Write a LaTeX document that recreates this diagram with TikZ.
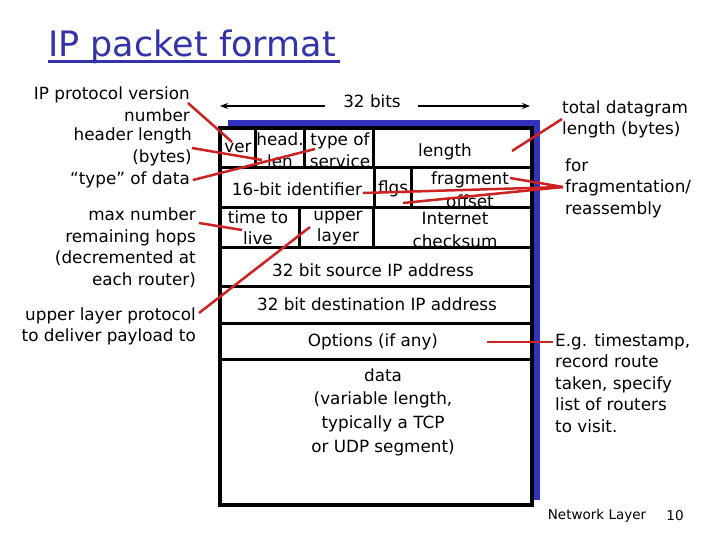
\documentclass[tikz,border=0pt]{standalone}
\usepackage{fontspec}
\setmainfont{DejaVu Sans}
\usetikzlibrary{arrows.meta}
\definecolor{ttlblue}{RGB}{51,51,170}
\definecolor{shblue}{RGB}{50,50,190}
\definecolor{lred}{RGB}{204,34,34}
\tikzset{
  fld/.style={inner sep=0pt, align=center, font=\fontsize{16.8}{22}\selectfont},
  lab/.style={inner sep=0pt, font=\fontsize{16.8}{21.5}\selectfont},
  grid/.style={line width=3pt, black},
  conn/.style={lred, line width=2.5pt},
  dimarrow/.style={line width=1.2pt, -{Stealth[length=8pt,width=6pt]}}
}
\begin{document}
\begin{tikzpicture}[x=1pt,y=-1pt]
\useasboundingbox (0,0) rectangle (720,540);
% title
\node[inner sep=0pt, anchor=base west, text=ttlblue, font=\fontsize{35}{38}\selectfont] (title) at (48,57) {IP packet format};
\draw[ttlblue, line width=3pt] (48,62) -- (340,62);
% box
\fill[shblue] (228,120) rectangle (540,500);
\draw[grid, fill=white, line width=3.5pt] (220,128) rectangle (532,505);
\draw[grid] (220,168) -- (532,168);
\draw[grid] (220,208) -- (532,208);
\draw[grid] (220,247) -- (532,247);
\draw[grid] (220,286) -- (532,286);
\draw[grid] (220,323) -- (532,323);
\draw[grid] (220,359) -- (532,359);
\draw[grid] (255,128) -- (255,168);
\draw[grid] (304,128) -- (304,168);
\draw[grid] (373,128) -- (373,168);
\draw[grid] (374,168) -- (374,208);
\draw[grid] (411,168) -- (411,208);
\draw[grid] (299,208) -- (299,247);
\draw[grid] (373,208) -- (373,247);
% 32 bits
\node[fld] (bits) at (372,101) {32 bits};
\draw[dimarrow] (325,106) -- (220,106);
\draw[dimarrow] (418,106) -- (530,106);
% fields
\node[fld] (ver) at (238,148) {ver};
\node[fld] (hlen) at (280,150) {head.\\len};
\node[fld] (tos) at (340,150) {type of\\service};
\node[fld] (len) at (445,152) {length};
\node[fld] (ident) at (297,189) {16-bit identifier};
\node[fld] (flgs) at (393,189) {flgs};
\node[fld, font=\fontsize{16.8}{23}\selectfont] (frag) at (470,190) {fragment\\offset};
\node[fld, font=\fontsize{16.8}{21}\selectfont] (ttl) at (258,228) {time to\\live};
\node[fld, font=\fontsize{16.8}{21}\selectfont] (prot) at (338,228) {upper\\layer};
\node[fld, font=\fontsize{16.8}{23}\selectfont] (csum) at (455,230) {Internet\\checksum};
\node[fld] (src) at (373,270) {32 bit source IP address};
\node[fld] (dst) at (377,304) {32 bit destination IP address};
\node[fld] (opt) at (373,342) {Options (if any)};
\node[fld, font=\fontsize{16.8}{23.7}\selectfont] (data) at (383,412) {data\\(variable length,\\typically a TCP\\or UDP segment)};
% left labels
\node[lab, align=right, anchor=east] (lver) at (190,104) {IP protocol version\\number};
\node[lab, align=right, anchor=east] (lhl) at (192,147) {header length\\(bytes)};
\node[lab, align=right, anchor=east] (ltos) at (190,180) {“type” of data};
\node[lab, align=right, anchor=east] (lttl) at (196,247.5) {max number\\remaining hops\\(decremented at\\each router)};
\node[lab, align=right, anchor=east] (lprot) at (196,326.5) {upper layer protocol\\to deliver payload to};
% right labels
\node[lab, align=left, anchor=west] (llen) at (562,119.5) {total datagram\\length (bytes)};
\node[lab, align=left, anchor=west] (lfrag) at (565,188) {for\\fragmentation/\\reassembly};
\node[lab, align=left, anchor=west] (lopt) at (555,383) {E.g. timestamp,\\record route\\taken, specify\\list of routers\\to visit.};
% footer
\node[inner sep=0pt, font=\fontsize{13.5}{15}\selectfont] (foot) at (597,516) {Network Layer};
\node[inner sep=0pt, font=\fontsize{13.5}{15}\selectfont] (page) at (675,516) {10};
% connector end points
\coordinate (s_ver) at (188,103);
\coordinate (e_ver) at (232,142);
\coordinate (s_hl) at (192,148);
\coordinate (e_hl) at (262,160);
\coordinate (s_tos) at (193,180);
\coordinate (e_tos) at (315,149);
\coordinate (s_ttl) at (199,223);
\coordinate (e_ttl) at (242,230);
\coordinate (s_prot) at (199,313);
\coordinate (e_prot) at (310,227);
\coordinate (s_len) at (562,119);
\coordinate (e_len) at (512,151);
\coordinate (s_frag) at (563,187);
\coordinate (e_frag1) at (510,178);
\coordinate (e_frag2) at (363,193);
\coordinate (e_frag3) at (403,203);
\coordinate (e_opt) at (487,342);
\coordinate (s_opt) at (553,342);
% connectors
\draw[conn] (s_ver) -- (e_ver);
\draw[conn] (s_hl) -- (e_hl);
\draw[conn] (s_tos) -- (e_tos);
\draw[conn] (s_ttl) -- (e_ttl);
\draw[conn] (s_prot) -- (e_prot);
\draw[conn] (s_len) -- (e_len);
\draw[conn] (s_frag) -- (e_frag1);
\draw[conn] (s_frag) -- (e_frag2);
\draw[conn] (s_frag) -- (e_frag3);
\draw[conn] (s_opt) -- (e_opt);
\end{tikzpicture}
\end{document}
